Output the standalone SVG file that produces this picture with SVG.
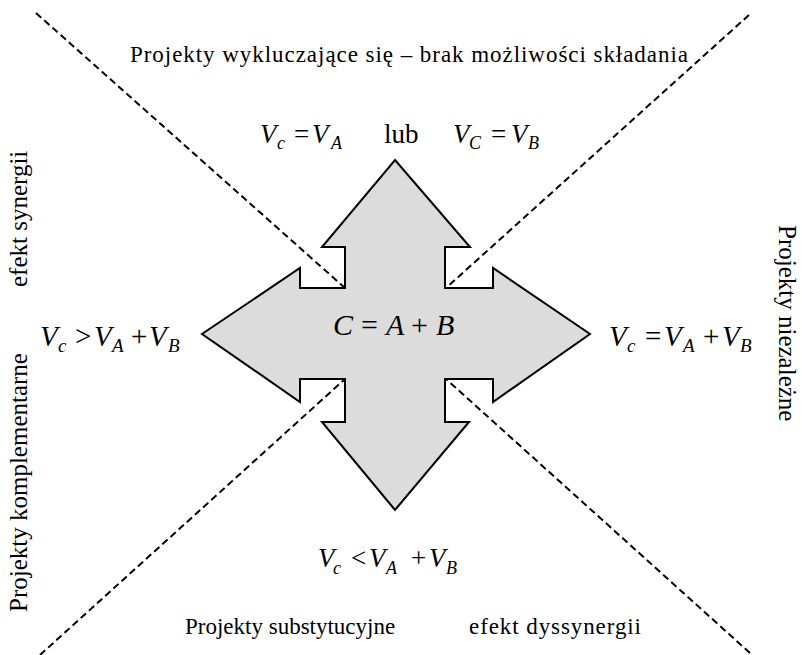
<svg xmlns="http://www.w3.org/2000/svg" width="802" height="655" viewBox="0 0 802 655" font-family="'Liberation Serif', 'Times New Roman', Tinos, 'DejaVu Serif', serif">
<style>
text{font-family:'Liberation Serif','Times New Roman',Tinos,'DejaVu Serif',serif}
.t{font-size:23px;fill:#000}
.tv{font-size:25px;fill:#000}
.m{font-style:italic;fill:#000}
.o{fill:#000}
.dash{fill:none;stroke:#000;stroke-width:2;stroke-dasharray:7 4}
</style>
<rect width="802" height="655" fill="#fff"/>
<g id="cross">
<polygon points="395,160 470,247 445,247 445,288 493,288 493,268 590,334 493,402 493,379 445,379 445,422 469,422 395,510 322,422 345,422 345,379 300,379 300,402 202,334 300,268 300,288 345,288 345,247 322,247" fill="#dcdcdc" stroke="#000" stroke-width="2" stroke-linejoin="miter"/>
<g id="center-formula" font-size="30">
<text class="m" x="333" y="335">C</text>
<text class="o" x="361" y="335">=</text>
<text class="m" x="386" y="335">A</text>
<text class="o" x="411" y="335">+</text>
<text class="m" x="436" y="335">B</text>
</g>
</g>
<g id="connectors">
<line class="dash" x1="36" y1="13" x2="345" y2="288"/>
<line class="dash" x1="749" y1="15" x2="446" y2="288"/>
<line class="dash" x1="40" y1="655" x2="345" y2="379"/>
<line class="dash" x1="750" y1="653" x2="446" y2="379"/>
</g>
<g id="top-label">
<text class="t" x="130" y="62" textLength="558" lengthAdjust="spacing">Projekty wykluczające się – brak możliwości składania</text>
</g>
<g id="top-formula" font-size="27">
<text class="m" x="260" y="143">V</text>
<text class="m" x="277" y="149" font-size="18">c</text>
<text class="o" x="294" y="143">=</text>
<text class="m" x="312" y="143">V</text>
<text class="m" x="331" y="149" font-size="18">A</text>
<text class="o" x="384" y="143">lub</text>
<text class="m" x="453" y="143">V</text>
<text class="m" x="469" y="149" font-size="18">C</text>
<text class="o" x="491" y="143">=</text>
<text class="m" x="511" y="143">V</text>
<text class="m" x="528" y="149" font-size="18">B</text>
</g>
<g id="left-formula" font-size="29">
<text class="m" x="40" y="346">V</text>
<text class="m" x="58" y="352" font-size="19">c</text>
<text class="o" x="75" y="346">&gt;</text>
<text class="m" x="94" y="346">V</text>
<text class="m" x="112" y="352" font-size="19">A</text>
<text class="o" x="131" y="346">+</text>
<text class="m" x="149" y="346">V</text>
<text class="m" x="168" y="352" font-size="19">B</text>
</g>
<g id="right-formula" font-size="29">
<text class="m" x="609" y="346">V</text>
<text class="m" x="627" y="352" font-size="19">c</text>
<text class="o" x="645" y="346">=</text>
<text class="m" x="664" y="346">V</text>
<text class="m" x="683" y="352" font-size="19">A</text>
<text class="o" x="703" y="346">+</text>
<text class="m" x="722" y="346">V</text>
<text class="m" x="740" y="352" font-size="19">B</text>
</g>
<g id="bottom-formula" font-size="27">
<text class="m" x="318" y="567">V</text>
<text class="m" x="333" y="574" font-size="18">c</text>
<text class="o" x="351" y="567">&lt;</text>
<text class="m" x="369" y="567">V</text>
<text class="m" x="386" y="574" font-size="18">A</text>
<text class="o" x="411" y="567">+</text>
<text class="m" x="429" y="567">V</text>
<text class="m" x="446" y="574" font-size="18">B</text>
</g>
<g id="left-labels">
<text class="tv" transform="translate(27,287) rotate(-90)">efekt synergii</text>
<text class="tv" transform="translate(27,612) rotate(-90)">Projekty komplementarne</text>
</g>
<g id="right-label">
<text class="tv" transform="translate(779,225) rotate(90)">Projekty niezależne</text>
</g>
<g id="bottom-labels">
<text class="t" x="185" y="634">Projekty substytucyjne</text>
<text class="t" x="469" y="634" textLength="172" lengthAdjust="spacing">efekt dyssynergii</text>
</g>
</svg>
